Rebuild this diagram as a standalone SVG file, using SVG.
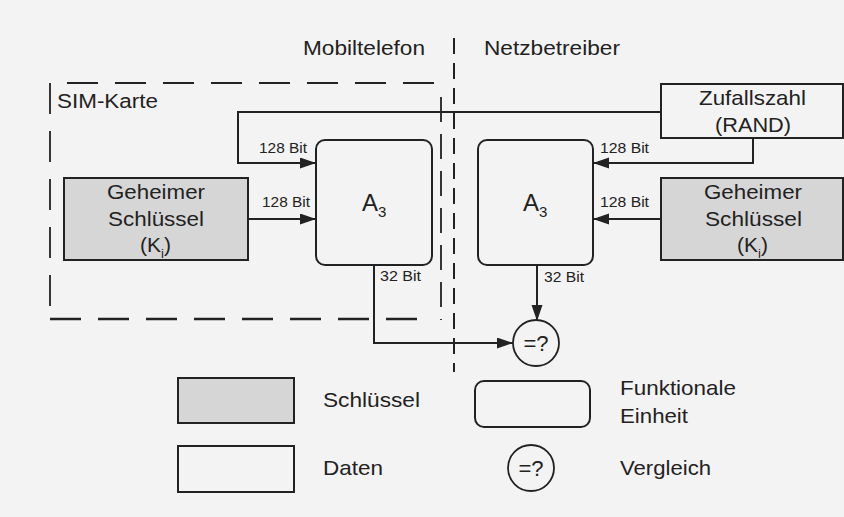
<svg xmlns="http://www.w3.org/2000/svg" width="844" height="517" viewBox="0 0 844 517">
<style>
text{font-family:"Liberation Sans",Arial,sans-serif;fill:#222}
.lbl{font-size:20px}
.box{font-size:21px}
.bit{font-size:15px}
.key{fill:#d6d6d6;stroke:#222;stroke-width:2}
.data{fill:none;stroke:#222;stroke-width:2}
.fn{fill:none;stroke:#222;stroke-width:2}
.cmp{fill:none;stroke:#222;stroke-width:1.8}
.conn{fill:none;stroke:#222;stroke-width:2}
.dash{fill:none;stroke:#222;stroke-width:1.8;stroke-dasharray:31 17}
</style>
<defs>
<marker id="arr" markerUnits="userSpaceOnUse" markerWidth="17" markerHeight="12" refX="16" refY="5.5" orient="auto">
<path d="M0,0 L16,5.5 L0,11 z" fill="#222"/>
</marker>
</defs>
<rect width="844" height="517" fill="#f3f3f3"/>

<g id="boundaries">
<line x1="454" y1="38" x2="454" y2="372" style="stroke:#222;stroke-width:2;stroke-dasharray:16 9"/>
<line class="dash" x1="50" y1="83" x2="50" y2="309"/>
<line class="dash" x1="67" y1="83" x2="439" y2="83"/>
<line x1="441" y1="97" x2="441" y2="320" style="stroke:#222;stroke-width:1.8;stroke-dasharray:25 12"/>
<line x1="50" y1="319" x2="424" y2="319" style="stroke:#222;stroke-width:2.6;stroke-dasharray:31 17"/>
<text class="lbl" x="303" y="55" textLength="122" lengthAdjust="spacingAndGlyphs">Mobiltelefon</text>
<text class="lbl" x="484" y="55" textLength="136" lengthAdjust="spacingAndGlyphs">Netzbetreiber</text>
<text class="lbl" x="57" y="108" textLength="101" lengthAdjust="spacingAndGlyphs">SIM-Karte</text>
</g>

<g id="connectors">
<polyline class="conn" points="661,112 238,112 238,163 316,163" marker-end="url(#arr)"/>
<line class="conn" x1="248" y1="219" x2="316" y2="219" marker-end="url(#arr)"/>
<polyline class="conn" points="753,138 753,163 593,163" marker-end="url(#arr)"/>
<line class="conn" x1="661" y1="219" x2="593" y2="219" marker-end="url(#arr)"/>
<polyline class="conn" points="374,265 374,343 513,343" marker-end="url(#arr)"/>
<line class="conn" x1="537" y1="265" x2="537" y2="321" marker-end="url(#arr)"/>
<text class="bit" x="259" y="153" textLength="48" lengthAdjust="spacingAndGlyphs">128 Bit</text>
<text class="bit" x="262" y="207" textLength="48" lengthAdjust="spacingAndGlyphs">128 Bit</text>
<text class="bit" x="600" y="153" textLength="49" lengthAdjust="spacingAndGlyphs">128 Bit</text>
<text class="bit" x="600" y="207" textLength="49" lengthAdjust="spacingAndGlyphs">128 Bit</text>
<text class="bit" x="380" y="281" textLength="41" lengthAdjust="spacingAndGlyphs">32 Bit</text>
<text class="bit" x="544" y="282" textLength="40" lengthAdjust="spacingAndGlyphs">32 Bit</text>
</g>

<g id="key-sim">
<rect class="key" x="64" y="178" width="184" height="82"/>
<text class="box" x="107" y="199" textLength="98" lengthAdjust="spacingAndGlyphs">Geheimer</text>
<text class="box" x="108" y="226" textLength="96" lengthAdjust="spacingAndGlyphs">Schlüssel</text>
<text class="box" x="140" y="252">(K<tspan font-size="13" dy="6">i</tspan><tspan dy="-6">)</tspan></text>
</g>

<g id="a3-mobile">
<rect class="fn" x="316" y="140" width="116" height="125" rx="9"/>
<text x="362" y="211" font-size="24">A<tspan font-size="15" dy="6">3</tspan></text>
</g>

<g id="a3-network">
<rect class="fn" x="478" y="140" width="115" height="125" rx="9"/>
<text x="523" y="211" font-size="24">A<tspan font-size="15" dy="6">3</tspan></text>
</g>

<g id="rand">
<rect class="data" x="661" y="84" width="182" height="54"/>
<text class="box" x="699" y="105" textLength="107" lengthAdjust="spacingAndGlyphs">Zufallszahl</text>
<text class="box" x="715" y="132" textLength="76" lengthAdjust="spacingAndGlyphs">(RAND)</text>
</g>

<g id="key-network">
<rect class="key" x="661" y="178" width="182" height="82"/>
<text class="box" x="704" y="199" textLength="98" lengthAdjust="spacingAndGlyphs">Geheimer</text>
<text class="box" x="705" y="226" textLength="97" lengthAdjust="spacingAndGlyphs">Schlüssel</text>
<text class="box" x="737" y="252">(K<tspan font-size="13" dy="6">i</tspan><tspan dy="-6">)</tspan></text>
</g>

<g id="compare">
<circle class="cmp" cx="536" cy="343" r="23"/>
<text x="536" y="351" font-size="22" text-anchor="middle">=?</text>
</g>

<g id="legend-key">
<rect class="key" x="178" y="378" width="116" height="45"/>
<text class="box" x="323" y="407" textLength="97" lengthAdjust="spacingAndGlyphs">Schlüssel</text>
</g>
<g id="legend-data">
<rect class="data" x="178" y="446" width="116" height="46"/>
<text class="box" x="323" y="475" textLength="60" lengthAdjust="spacingAndGlyphs">Daten</text>
</g>
<g id="legend-fn">
<rect class="fn" x="475" y="381" width="115" height="46" rx="9"/>
<text class="box" x="620" y="395" textLength="116" lengthAdjust="spacingAndGlyphs">Funktionale</text>
<text class="box" x="620" y="423" textLength="68" lengthAdjust="spacingAndGlyphs">Einheit</text>
</g>
<g id="legend-cmp">
<circle class="cmp" cx="531" cy="468" r="23"/>
<text x="531" y="476" font-size="22" text-anchor="middle">=?</text>
<text class="box" x="620" y="475" textLength="91" lengthAdjust="spacingAndGlyphs">Vergleich</text>
</g>
</svg>
